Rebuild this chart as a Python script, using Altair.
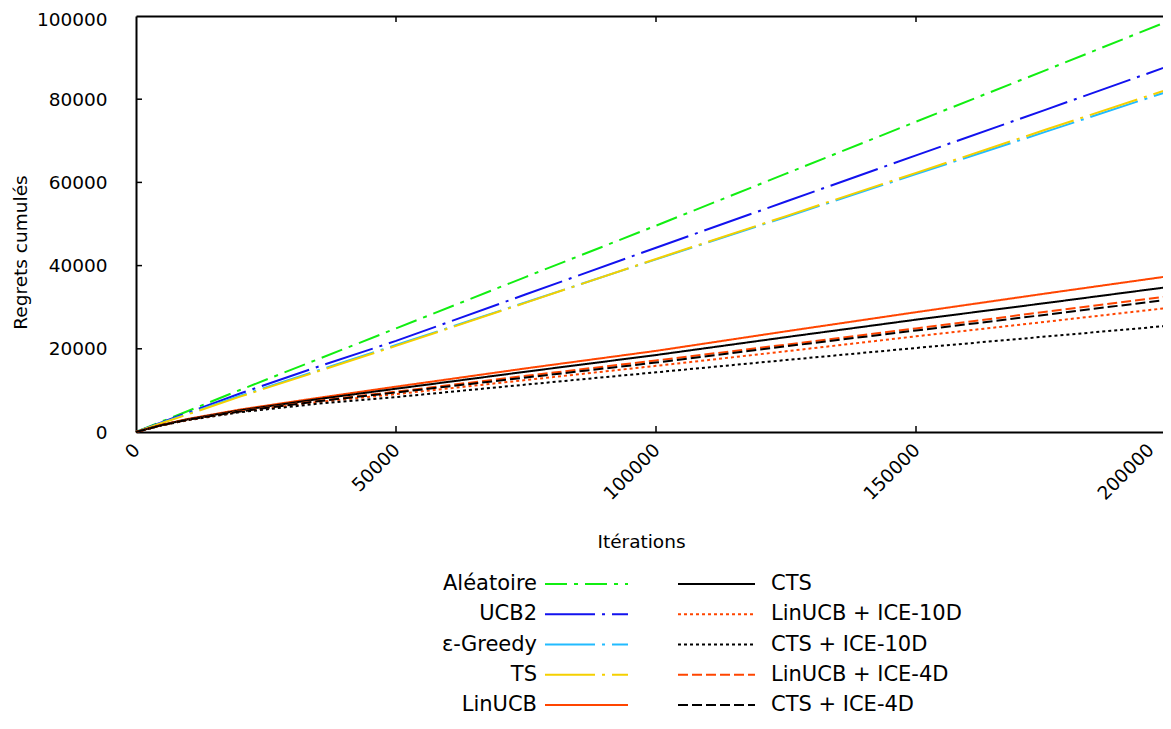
import altair as alt
import pandas as pd

# ---------------- data ----------------
iterations = [0, 5000, 10000, 20000, 35000, 50000, 75000, 100000, 125000, 150000, 175000, 200000]

aleatoire    = [0, 2550, 5050, 10100, 17500, 24900, 37300, 49600, 62100, 74600, 87000, 99500]
ucb2         = [0, 2350, 4650, 9250, 15700, 21900, 33100, 44300, 55400, 66500, 77500, 88600]
eps_greedy   = [0, 2250, 4400, 8700, 14800, 20900, 31200, 41500, 51700, 62000, 72200, 82500]
ts           = [0, 2150, 4250, 8500, 14600, 20700, 31100, 41600, 51900, 62300, 72700, 83000]
linucb       = [0, 1750, 3150, 5400, 8200, 10900, 15300, 19500, 24200, 28800, 33300, 37700]
cts          = [0, 1700, 3050, 5200, 7900, 10400, 14500, 18500, 22800, 27000, 31000, 35100]
linucb_ice10 = [0, 1650, 2900, 4900, 7200, 9100, 12500, 15900, 19400, 23000, 26500, 30050]
cts_ice10    = [0, 1600, 2850, 4750, 6800, 8400, 11400, 14350, 17300, 20200, 22950, 25700]
linucb_ice4  = [0, 1650, 2950, 5000, 7500, 9700, 13500, 17200, 21000, 24900, 28900, 32850]
cts_ice4     = [0, 1650, 2950, 4950, 7400, 9500, 13100, 16700, 20600, 24400, 28200, 32050]

names = ["Aléatoire", "UCB2", "ε-Greedy", "TS", "LinUCB",
         "CTS", "LinUCB + ICE-10D", "CTS + ICE-10D", "LinUCB + ICE-4D", "CTS + ICE-4D"]
series_values = [aleatoire, ucb2, eps_greedy, ts, linucb,
                 cts, linucb_ice10, cts_ice10, linucb_ice4, cts_ice4]

x_tick_labels = [0, 50000, 100000, 150000, 200000]
y_tick_labels = [0, 20000, 40000, 60000, 80000, 100000]
x_inner_ticks = [50000, 100000, 150000]
y_inner_ticks = [20000, 40000, 60000, 80000]

# ---------------- styles ----------------
colors = ["#11ee11", "#1212ee", "#22bbff", "#f5d000", "#ff4500",
          "#000000", "#ff4500", "#000000", "#ff4500", "#000000"]
dashes = [[22, 7, 4, 7], [50, 7, 3, 7], [50, 7, 3, 7], [50, 7, 3, 7], [1, 0],
          [1, 0], [3, 3], [3, 3], [10, 4], [10, 4]]

FONT = "DejaVu Sans"
W, H = 1027, 416        # visible view (the reference is cut at the right edge)
XR = 1040               # pixel length of the 0..200000 range

rows = []
for name, vals in zip(names, series_values):
    for it, v in zip(iterations, vals):
        rows.append({"serie": name, "iter": it, "regret": v})
df = pd.DataFrame(rows)

color_scale = alt.Scale(domain=names, range=colors)
dash_scale = alt.Scale(domain=names, range=dashes)


def xs():
    return alt.Scale(domain=[0, 200000], nice=False, range=[0, XR])


def ys():
    return alt.Scale(domain=[0, 100000], nice=False, range=[H, 0])


lines = alt.Chart(df).mark_line(strokeWidth=2).encode(
    x=alt.X("iter:Q", scale=xs(),
            axis=alt.Axis(title="Itérations", values=x_tick_labels, format="d",
                          labelAngle=-45, labelAlign="right", labelBaseline="top",
                          labelPadding=8,
                          labelOffset={"condition": {"test": "datum.value >= 200000",
                                                     "value": -32},
                                       "value": -6},
                          labelFontSize=18.5,
                          titleFontSize=18.5, titleFontWeight="normal",
                          titleX=505, titleY=109, titleAlign="center",
                          titleBaseline="middle", ticks=False, domain=True,
                          domainColor="black", domainWidth=2, grid=False,
                          labelColor="black", titleColor="black")),
    y=alt.Y("regret:Q", scale=ys(),
            axis=alt.Axis(title="Regrets cumulés", values=y_tick_labels, format="d",
                          labelPadding=29,
                          labelOffset={"condition": {"test": "datum.value >= 100000",
                                                     "value": 3},
                                       "value": 0},
                          labelFontSize=18.5, titleFontSize=18.5,
                          titleFontWeight="normal", titleX=-116, titleY=236,
                          titleAlign="center", titleBaseline="middle", titleAngle=-90,
                          ticks=False, domain=True, domainColor="black", domainWidth=2,
                          grid=False, labelColor="black", titleColor="black")),
    color=alt.Color("serie:N", scale=color_scale, legend=None),
    strokeDash=alt.StrokeDash("serie:N", scale=dash_scale, legend=None),
)

xt = pd.DataFrame({"iter": x_inner_ticks})
yt = pd.DataFrame({"regret": y_inner_ticks})
bottom_ticks = alt.Chart(xt).mark_rule(color="black", strokeWidth=1.5).encode(
    x=alt.X("iter:Q", scale=xs(), axis=None), y=alt.value(H - 6), y2=alt.value(H))
top_ticks = alt.Chart(xt).mark_rule(color="black", strokeWidth=1.5).encode(
    x=alt.X("iter:Q", scale=xs(),
            axis=alt.Axis(orient="top", labels=False, ticks=False, title=None,
                          domain=True, domainColor="black", domainWidth=2, grid=False)),
    y=alt.value(0), y2=alt.value(6))
left_ticks = alt.Chart(yt).mark_rule(color="black", strokeWidth=1.5).encode(
    y=alt.Y("regret:Q", scale=ys(), axis=None), x=alt.value(0), x2=alt.value(6))

# ---------------- custom two-column legend ----------------
leg = pd.DataFrame({"serie": names,
                    "col": [0] * 5 + [1] * 5,
                    "row": [0, 1, 2, 3, 4] * 2})
leg_base = alt.Chart(leg).transform_calculate(
    sx1="datum.col == 0 ? 409 : 542",
    sx2="datum.col == 0 ? 492 : 619",
    tx="datum.col == 0 ? 401 : 635",
)


def lx():
    return alt.Scale(domain=[0, W], range=[0, W])


def ly():
    return alt.Scale(domain=[0, 1, 2, 3, 4], range=[553, 704])


sym = leg_base.mark_rule(strokeWidth=2).encode(
    x=alt.X("sx1:Q", scale=lx(), axis=None), x2="sx2:Q",
    y=alt.Y("row:O", scale=ly(), axis=None),
    color=alt.Color("serie:N", scale=color_scale, legend=None),
    strokeDash=alt.StrokeDash("serie:N", scale=dash_scale, legend=None),
)
txt_left = leg_base.transform_filter("datum.col == 0").mark_text(
    align="right", baseline="middle", fontSize=21, font=FONT, color="black").encode(
    x=alt.X("tx:Q", scale=lx(), axis=None),
    y=alt.Y("row:O", scale=ly(), axis=None), text="serie:N")
txt_right = leg_base.transform_filter("datum.col == 1").mark_text(
    align="left", baseline="middle", fontSize=21, font=FONT, color="black").encode(
    x=alt.X("tx:Q", scale=lx(), axis=None),
    y=alt.Y("row:O", scale=ly(), axis=None), text="serie:N")

chart = alt.layer(
    lines, bottom_ticks, top_ticks, left_ticks, sym, txt_left, txt_right
).resolve_scale(x="independent", y="independent").properties(
    width=W, height=H,
    autosize=alt.AutoSizeParams(type="none"),
    padding={"left": 128, "top": 8, "right": 0, "bottom": 283},
).configure(font=FONT).configure_view(stroke=None)

chart.save("out.html", embed_options={"renderer": "svg", "actions": False})
